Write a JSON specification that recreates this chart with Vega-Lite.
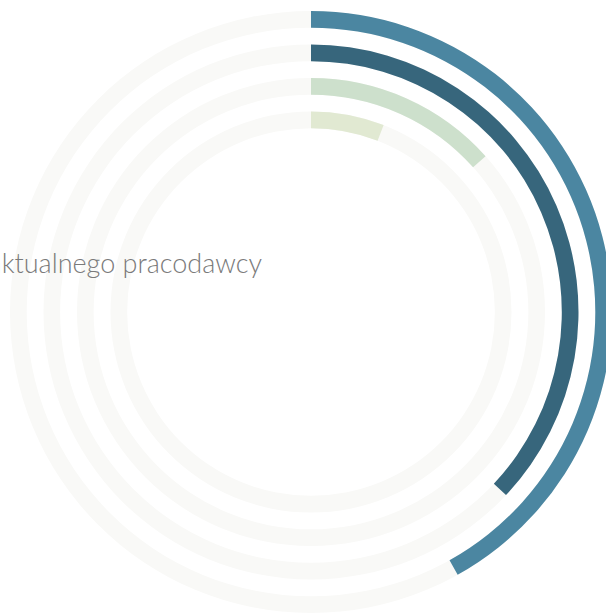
{
  "$schema": "https://vega.github.io/schema/vega-lite/v6.json",
  "width": 590,
  "height": 604,
  "autosize": "none",
  "padding": {"left": 16, "top": 10, "right": 0, "bottom": 0},
  "background": "#ffffff",
  "title": {
    "text": "od aktualnego pracodawcy",
    "orient": "top",
    "anchor": "middle",
    "frame": "group",
    "align": "right",
    "baseline": "alphabetic",
    "offset": 0,
    "dx": -49,
    "dy": 290,
    "font": "Lato",
    "fontSize": 27,
    "fontWeight": 300,
    "color": "#7a7a7a"
  },
  "data": {
    "values": [
      {"ring": 1, "value": 41.9},
      {"ring": 2, "value": 37.0},
      {"ring": 3, "value": 13.4},
      {"ring": 4, "value": 5.9}
    ]
  },
  "layer": [
    {
      "mark": {"type": "arc", "theta": 0, "theta2": 6.2832, "radius2Offset": -16.7, "color": "#f9f9f7"},
      "encoding": {
        "radius": {"field": "ring", "type": "quantitative", "scale": {"type": "linear", "domain": [1, 4], "range": [301, 200.5], "zero": false}},
        "radius2": {"field": "ring"}
      }
    },
    {
      "mark": {"type": "arc", "radius2Offset": -16.7},
      "encoding": {
        "radius": {"field": "ring", "type": "quantitative"},
        "radius2": {"field": "ring"},
        "theta": {"field": "value", "type": "quantitative", "stack": null, "scale": {"domain": [0, 100], "range": [0, 6.283185]}},
        "theta2": {"datum": 0},
        "color": {
          "field": "ring",
          "type": "nominal",
          "scale": {"domain": [1, 2, 3, 4], "range": ["#4b86a1", "#37667c", "#cde0cc", "#e1e9d2"]},
          "legend": null
        }
      }
    }
  ],
  "config": {"view": {"stroke": null}}
}
